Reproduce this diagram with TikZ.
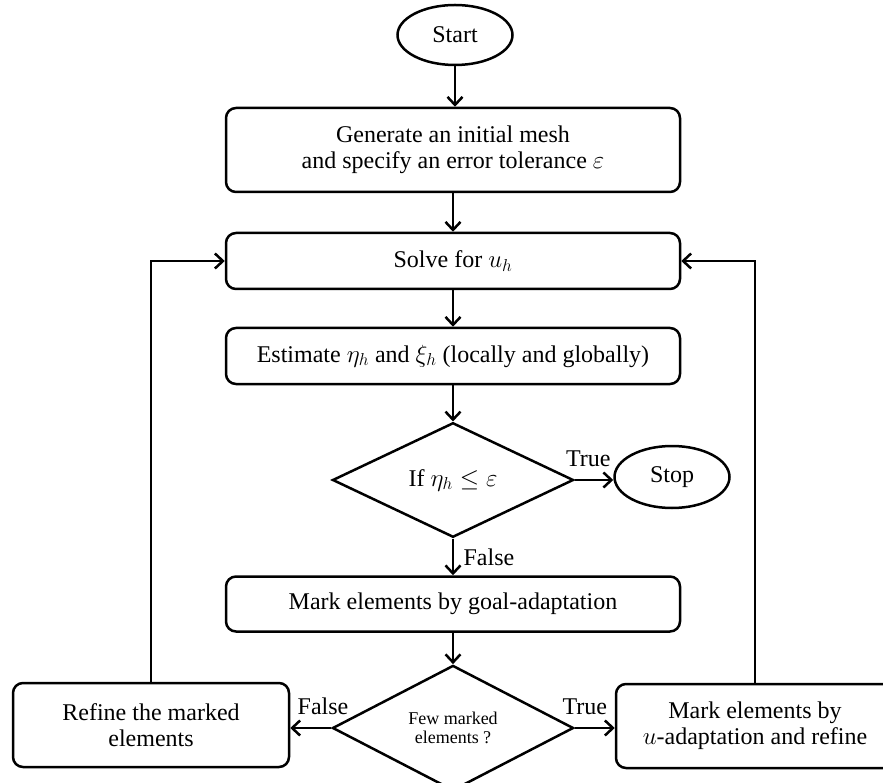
\documentclass[tikz,border=0pt]{standalone}
\usepackage{amsmath}
\usepackage{fontspec}
\setmainfont{Liberation Serif}
\usetikzlibrary{shapes.geometric, arrows.meta}

\tikzset{
    terminal/.style = {draw, ellipse, line width = 2.5pt, minimum width = 115pt, minimum height = 60pt, font = \fontsize{24}{26}\selectfont},
    process/.style = {draw, rectangle, rounded corners = 10pt, line width = 2.5pt, minimum width = 454pt, align = center, font = \fontsize{24}{26}\selectfont},
    decision/.style = {draw, diamond, line width = 2.5pt, minimum width = 241pt, minimum height = 110pt, align = center, inner sep = 1pt, font = \fontsize{24}{26}\selectfont},
    flow/.style = {->, line width = 2.5pt},
    answer/.style = {font = \fontsize{24}{26}\selectfont}
}

\begin{document}
\begin{tikzpicture}[x = 1pt, y = -1pt, >={Straight Barb[length = 8pt, width = 15pt]}]
            \useasboundingbox (0, 0) rectangle (883, 783);
            
            \node[terminal] (start) at (455, 35) {Start};
            \node[process, minimum height = 84pt] (mesh) at (453, 150) {Generate an initial mesh\\and specify an error tolerance $\varepsilon$};
            \node[process, minimum height = 56pt] (solve) at (453, 261) {Solve for $u_h$};
            \node[process, minimum height = 56pt] (estimate) at (453, 356) {Estimate $\eta_h$ and $\xi_h$ (locally and globally)};
            \node[decision] (check) at (453, 480) {If $\eta_h \leq \varepsilon$};
            \node[terminal, minimum height = 62pt] (stop) at (672, 477) {Stop};
            \node[process, minimum height = 55pt] (goal) at (453, 604) {Mark elements by goal-adaptation};
            \node[decision, minimum height = 112pt, font = \fontsize{18}{19}\selectfont] (few) at (453, 728) {Few marked\\elements ?};
            \node[process, minimum width = 276pt, minimum height = 84pt] (refine) at (151, 725) {Refine the marked\\elements};
            \node[process, minimum width = 278pt, minimum height = 84pt] (uadapt) at (755, 726) {Mark elements by\\$u$-adaptation and refine};
            
            \draw[flow](start) -- (start |- mesh.north);
            \draw[flow](mesh) -- (solve);
            \draw[flow](solve) -- (estimate);
            \draw[flow](estimate) -- (check);
            \draw[flow](check.east) -- node[answer, above, pos = 0.35, yshift = 9pt] {True} (check.east -| stop.west);
            \draw[flow](check.south) -- node[answer, right, xshift = 6pt] {False} (goal);
            \draw[flow](goal) -- (few);
            \draw[flow](few.west) -- node[answer, above, pos = 0.2, yshift = 9pt] {False} (few.west -| refine.east);
            \draw[flow](few.east) -- node[answer, above, pos = 0.25, yshift = 9pt] {True} (few.east -| uadapt.west);
            
            % loops back to the solver
            \draw[flow](refine.north) |- (solve.west);
            \draw[flow](uadapt.north) |- (solve.east);
            
        \end{tikzpicture}
\end{document}
